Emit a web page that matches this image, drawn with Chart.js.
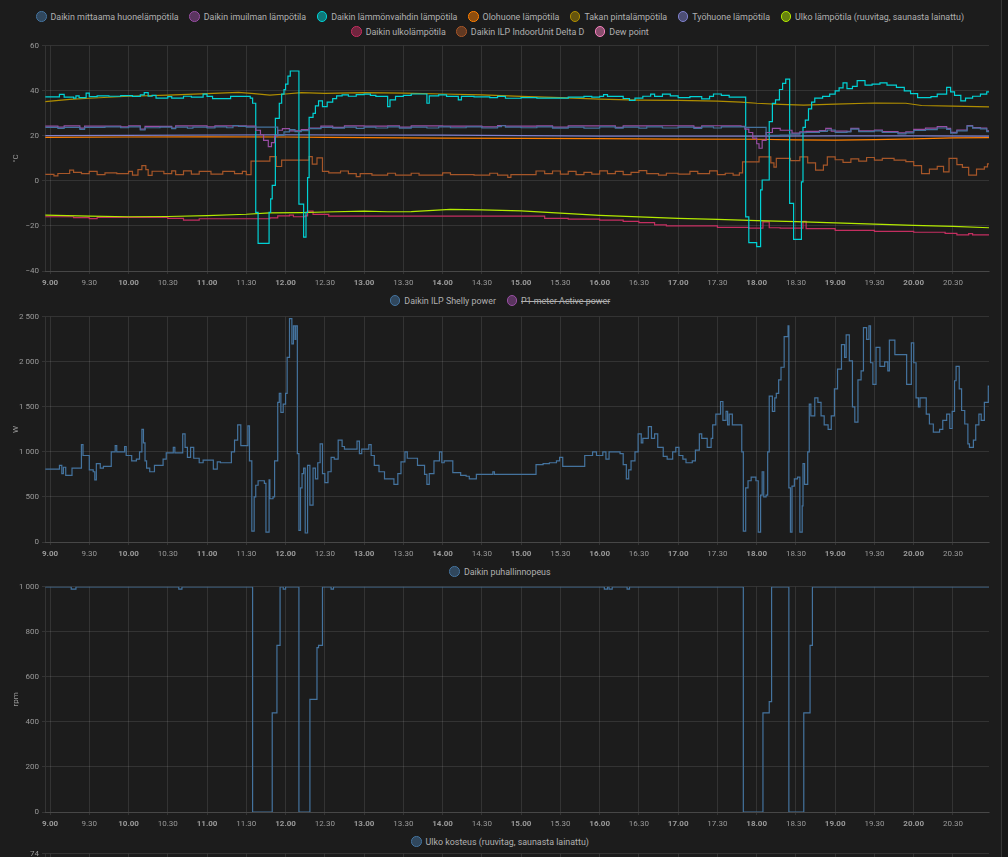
<!DOCTYPE html>
<html>
<head>
<meta charset="utf-8">
<script src="https://cdn.jsdelivr.net/npm/chart.js@4.4.0/dist/chart.umd.min.js"></script>
<style>
  html, body { margin: 0; padding: 0; background: #1c1c1c; }
  body { width: 1008px; height: 857px; overflow: hidden; position: relative; font-family: Roboto, sans-serif; }
  .legend { position: absolute; left: 0; width: 1000px; display: flex; flex-wrap: wrap; justify-content: center; margin: 0; padding: 0; list-style: none; }
  .legend li { display: inline-flex; align-items: center; height: 15px; padding: 0 5.3px; font-size: 8.9px; color: #b0b0b0; white-space: nowrap; }
  .legend .bullet { width: 10.5px; height: 10.5px; box-sizing: border-box; border: 1px solid; border-radius: 50%; margin-right: 4px; }
  .legend .off { text-decoration: line-through; }
  .box { position: absolute; left: 0; width: 1000px; height: 254px; }
  .edge { position: absolute; left: 1001px; top: 0; width: 1px; height: 857px; background: #363636; }
  .side { position: absolute; left: 1002px; top: 0; width: 6px; height: 857px; background: #171717; }
</style>
</head>
<body>
<ul class="legend" id="lg1" style="top:9px"></ul>
<div class="box" style="top:38px"><canvas id="c1" width="1000" height="254"></canvas></div>
<ul class="legend" id="lg2" style="top:293px"></ul>
<div class="box" style="top:309px"><canvas id="c2" width="1000" height="254"></canvas></div>
<ul class="legend" id="lg3" style="top:564px"></ul>
<div class="box" style="top:579px"><canvas id="c3" width="1000" height="254"></canvas></div>
<ul class="legend" id="lg4" style="top:834px"></ul>
<div class="box" style="top:846px"><canvas id="c4" width="1000" height="254"></canvas></div>
<div class="edge"></div>
<div class="side"></div>

<script>
// time axis (hours of the day)
const xMin = 8.936;
const xMax = 20.959;
const tickHours = [9, 9.5, 10, 10.5, 11, 11.5, 12, 12.5, 13, 13.5, 14, 14.5, 15, 15.5,
  16, 16.5, 17, 17.5, 18, 18.5, 19, 19.5, 20, 20.5];

// --- temperatures, [hour, °C] ---
const roomTemp = [[8.94,23.8],[9.1,23.3],[9.18,23.8],[9.38,22.9],[9.44,23.8],[9.7,24],[9.9,23.6],[10.0,24],[10.15,22.6],[10.21,23.6],[10.4,23.9],[10.55,23.2],[10.6,23.9],[10.75,23.4],[10.82,23.9],[11.0,23.5],[11.1,24],[11.25,23.6],[11.33,24.6],[11.4,24.2],[11.5,23.9],[11.9,20.2],[11.98,21.8],[12.05,22.8],[12.12,21.9],[12.2,22.3],[12.3,23.2],[12.45,23.8],[12.6,23.4],[12.75,23.9],[12.9,23.3],[13.0,23.9],[13.15,23.5],[13.3,24],[13.45,23.4],[13.6,23.9],[13.8,23.5],[13.95,24],[14.1,23.6],[14.3,24],[14.5,23.5],[14.7,24.1],[14.75,24.5],[14.8,23.9],[15.0,23.6],[15.2,24],[15.4,23.4],[15.6,23.9],[15.8,23.4],[16.0,24],[16.2,23.4],[16.3,23.9],[16.5,23.4],[16.6,24],[16.8,23.5],[17.0,23.9],[17.2,23.3],[17.3,24],[17.45,23.5],[17.55,24],[17.85,23.8],[18.12,20.2],[18.3,20.4],[18.42,20.8],[18.55,21.4],[18.63,21.5],[18.8,22],[18.9,22.6],[19.0,21.6],[19.15,21.8],[19.2,23],[19.3,21.9],[19.5,22.2],[19.6,21.5],[19.8,20.9],[19.9,21.3],[20.0,22.4],[20.15,22.8],[20.3,23.5],[20.42,22.9],[20.47,21.2],[20.55,22.2],[20.68,24.3],[20.75,23.4],[20.85,23.1],[20.93,21.9],[20.96,21.9]];
const intakeTemp = [[8.94,24.3],[9.1,23.9],[9.18,24.4],[9.38,23.4],[9.44,24.3],[9.9,24],[10.0,24.4],[10.15,23],[10.21,24.2],[10.55,23.5],[10.6,24.4],[11.0,24],[11.1,24.4],[11.5,24.3],[11.62,22.5],[11.68,20.5],[11.72,18],[11.78,15.2],[11.82,17],[11.86,20],[11.9,22.5],[11.96,23.2],[12.05,22.2],[12.2,22.8],[12.3,23.5],[12.45,24.3],[12.6,23.8],[12.75,24.4],[13.0,24.3],[13.3,24.5],[13.45,23.9],[13.6,24.4],[14.0,24.3],[14.5,24],[14.7,24.6],[14.8,24.3],[15.2,24.4],[15.4,23.9],[15.6,24.4],[16.0,24.5],[16.2,23.8],[16.3,24.4],[16.6,24.5],[17.0,24.4],[17.2,23.8],[17.3,24.5],[17.55,24.4],[17.8,24.2],[17.85,23],[17.9,21.5],[17.95,19],[18.0,16.5],[18.03,14.5],[18.07,18],[18.12,21.5],[18.2,23.3],[18.3,22.5],[18.45,21.2],[18.55,21.8],[18.63,22],[18.8,22.4],[18.88,23.3],[18.95,22.1],[19.15,22],[19.2,23.3],[19.3,22.2],[19.5,22.6],[19.6,21.9],[19.8,21.3],[19.9,21.8],[20.0,22.9],[20.15,23.4],[20.3,24.1],[20.42,23.3],[20.47,21.6],[20.55,22.6],[20.68,24.6],[20.75,23.7],[20.85,23.4],[20.93,22.2],[20.96,22.2]];
const exchangerTemp = [[8.94,37.3],[9.12,38.4],[9.18,37.2],[9.3,36.8],[9.33,37.8],[9.37,37],[9.46,39],[9.5,37.4],[9.6,37.8],[9.75,37.6],[9.9,37.9],[10.05,37.5],[10.15,38.2],[10.2,39.2],[10.25,37.6],[10.3,38],[10.35,36.8],[10.5,37.4],[10.55,36.8],[10.7,37.6],[10.8,37.2],[10.95,38.5],[11.0,37.5],[11.07,36.5],[11.3,37.5],[11.55,36.8],[11.58,34.5],[11.62,-14],[11.65,-27.7],[11.79,-14],[11.81,-8],[11.83,-2],[11.87,27.8],[11.92,34.5],[11.95,38.5],[11.98,40.5],[12.0,43],[12.03,46.5],[12.06,48.8],[12.17,-10.3],[12.23,-25],[12.26,-14],[12.28,1.5],[12.3,28.2],[12.35,30],[12.38,33.3],[12.42,35.5],[12.47,33],[12.53,35],[12.6,36.5],[12.65,37.8],[12.72,38.2],[12.8,37.6],[12.9,38.3],[13.0,38.5],[13.08,38],[13.15,37.5],[13.3,33],[13.33,36],[13.4,37.5],[13.5,38],[13.6,38.6],[13.8,34.5],[13.83,37.8],[13.95,38.2],[14.05,37.5],[14.2,36],[14.24,37.5],[14.4,37.3],[14.6,37],[14.7,37.5],[14.8,36.7],[15.0,37],[15.2,36.8],[15.6,37.2],[15.8,37.5],[15.9,37.2],[16.0,37.5],[16.05,38.3],[16.1,37.5],[16.3,36.6],[16.38,35.8],[16.45,36.8],[16.55,37.6],[16.65,38.5],[16.7,37.5],[16.8,38.5],[16.9,37.8],[17.0,37],[17.15,37.4],[17.3,36.4],[17.4,37.5],[17.45,38.6],[17.55,38],[17.65,37.2],[17.86,-16],[17.9,-27.4],[18.0,-29.2],[18.05,-4],[18.07,0.4],[18.16,26.3],[18.2,34.4],[18.24,36],[18.29,40.6],[18.33,43.3],[18.37,45.2],[18.42,-10],[18.47,-26],[18.57,-0.4],[18.59,23.8],[18.62,27],[18.66,32],[18.7,35],[18.74,36.8],[18.84,37.5],[18.93,38.5],[19.0,40],[19.05,41.3],[19.1,43.5],[19.15,41],[19.22,42],[19.28,44.5],[19.38,42.5],[19.47,43],[19.57,43.5],[19.66,42.5],[19.78,41.5],[19.88,40],[19.96,38.8],[20.05,37],[20.22,37.4],[20.3,38.5],[20.42,41.5],[20.47,39.5],[20.52,38],[20.6,35.5],[20.66,36.8],[20.75,37.6],[20.85,38.5],[20.93,39.5],[20.96,39.5]];
const livingRoomTemp = [[8.94,19.3],[10,19.5],[11,19.6],[12,19.5],[12.5,19.3],[13,19.2],[14,19],[15,18.9],[16,18.8],[17,18.6],[18,18.5],[18.5,18.2],[19,18.1],[19.5,18.3],[20,18.7],[20.5,19.1],[20.96,19.2]];
const fireplaceTemp = [[8.94,35.2],[9.25,36.2],[9.5,36.7],[10.0,37.6],[10.5,38.1],[11.0,38.8],[11.4,39.3],[11.6,38.8],[11.8,38.1],[12.0,38.6],[12.2,39.2],[12.5,38.9],[13.0,39.2],[13.5,39],[14.0,38.6],[14.5,38.2],[15.0,37.5],[15.5,37],[16.0,36.3],[16.5,35.9],[17.0,35.8],[17.5,35.4],[17.8,35],[18.0,34.5],[18.3,34],[18.6,33.7],[19.0,34.1],[19.5,34.6],[19.9,34.5],[20.1,33.5],[20.5,33.2],[20.96,32.9]];
const officeTemp = [[8.94,20.1],[10,20.2],[11,20.4],[12,20.5],[13,20.4],[14,20.3],[15,20.1],[16,19.9],[17,19.9],[18,19.9],[19,20],[20,20],[20.96,19.9]];
const outdoorTemp = [[8.94,-15.2],[9.5,-15.6],[10.0,-15.9],[10.5,-15.8],[11.0,-15.4],[11.5,-14.8],[11.8,-14.2],[12.2,-14.1],[12.5,-13.8],[13.0,-13.4],[13.3,-13.7],[13.6,-13.6],[14.1,-12.6],[14.5,-12.9],[15.0,-13.3],[15.5,-14.3],[16.0,-15.3],[16.5,-16],[17.0,-16.6],[17.5,-17.1],[18.0,-17.6],[18.5,-18.1],[19.0,-18.6],[19.5,-19.2],[20.0,-19.7],[20.5,-20.2],[20.96,-20.8]];
const unitOutdoorTemp = [[8.94,-15.9],[9.3,-16.3],[9.5,-16.7],[9.6,-16.2],[10.5,-16.6],[10.7,-17.4],[10.9,-16.8],[11.8,-16.4],[11.9,-15.5],[12.05,-15.2],[12.1,-15.9],[12.25,-15.5],[12.28,-13.4],[12.35,-14.9],[12.55,-15.6],[15,-15.6],[15.3,-16.6],[15.6,-17],[16,-17.4],[16.3,-18],[16.5,-18.5],[16.7,-19.5],[16.85,-20],[17.5,-20.6],[17.9,-21],[18.08,-18.2],[18.16,-20.8],[18.3,-21],[18.59,-18],[18.63,-21.2],[19.0,-22],[19.5,-22.4],[20.0,-22.8],[20.4,-23.3],[20.55,-24],[20.7,-23.4],[20.75,-24],[20.96,-24]];
const indoorDelta = [[8.94,2.9],[9.05,2.2],[9.1,3.3],[9.25,4.8],[9.3,3.8],[9.4,3.2],[9.5,4.2],[9.6,2.8],[9.7,3.6],[9.85,3.2],[10.0,4.2],[10.05,2.6],[10.12,5],[10.17,6.8],[10.22,5],[10.25,2.5],[10.3,4.3],[10.45,3.2],[10.55,4.5],[10.6,2.8],[10.7,4.5],[10.8,3],[10.9,4.2],[11.05,3],[11.2,4.2],[11.35,3.2],[11.45,4.2],[11.5,2.8],[11.56,8.8],[11.8,10.8],[11.88,6.4],[11.95,9.2],[12.3,10.8],[12.34,7.5],[12.4,10.2],[12.47,4.2],[12.55,3.6],[12.7,4.4],[12.8,3.2],[12.9,1.9],[12.95,3.2],[13.1,2.6],[13.3,3.4],[13.4,2.6],[13.6,3.4],[13.7,2.6],[14.0,3.6],[14.1,2.8],[14.4,2.6],[14.6,3.4],[14.7,2.6],[14.83,1.6],[14.87,2.8],[15.19,4.4],[15.3,3.2],[15.4,4.4],[15.5,3],[15.6,4.2],[15.7,2.8],[15.8,3.8],[15.9,3],[16.0,4.5],[16.1,3.2],[16.2,4.2],[16.3,2.8],[16.4,3.8],[16.5,4.6],[16.6,3.2],[16.75,2.6],[16.85,3.4],[17.0,3],[17.15,4.2],[17.25,3.2],[17.4,4.5],[17.5,2.8],[17.6,3.4],[17.7,2.6],[17.78,3.6],[17.82,8.5],[18.03,10.7],[18.18,8],[18.22,6.1],[18.25,10],[18.43,9],[18.55,10.7],[18.65,8],[18.75,4.8],[18.85,7],[18.9,10.7],[19.0,9.4],[19.1,8.2],[19.2,9.8],[19.3,8.8],[19.4,10.4],[19.5,9.2],[19.6,10],[19.75,9.2],[19.9,8.6],[20.0,6.8],[20.1,3.2],[20.2,5.2],[20.3,6.5],[20.38,4],[20.45,10],[20.55,7.2],[20.62,6],[20.7,2.6],[20.8,5.2],[20.9,6.2],[20.94,7.6],[20.96,7.6]];
const dewPoint = [];

// --- power, [hour, W] ---
const shellyPower = [[8.94,810],[9.12,850],[9.15,760],[9.17,830],[9.2,740],[9.28,820],[9.4,1080],[9.42,960],[9.5,800],[9.55,780],[9.57,690],[9.59,870],[9.64,820],[9.68,840],[9.78,1000],[9.83,1070],[9.85,1000],[9.95,1060],[9.97,960],[10.04,900],[10.1,920],[10.14,1000],[10.17,1250],[10.19,1100],[10.21,900],[10.23,820],[10.27,780],[10.33,850],[10.44,920],[10.48,990],[10.57,1050],[10.59,990],[10.69,1200],[10.72,1050],[10.75,940],[10.79,1050],[10.83,930],[10.9,880],[10.95,910],[11.08,810],[11.13,890],[11.17,880],[11.31,1000],[11.35,1130],[11.39,1300],[11.43,1070],[11.52,1290],[11.54,900],[11.57,120],[11.6,500],[11.62,630],[11.65,680],[11.73,650],[11.75,110],[11.79,690],[11.8,480],[11.84,500],[11.86,900],[11.9,1550],[11.92,1650],[11.94,1440],[11.97,1530],[12.0,1650],[12.02,2050],[12.05,2480],[12.08,2200],[12.1,2400],[12.12,2250],[12.13,2400],[12.15,980],[12.17,130],[12.19,600],[12.21,760],[12.23,820],[12.25,100],[12.28,850],[12.31,410],[12.35,820],[12.38,700],[12.41,880],[12.44,1090],[12.47,760],[12.5,660],[12.54,780],[12.58,940],[12.62,920],[12.67,1130],[12.72,1060],[12.75,1030],[12.91,1120],[12.94,980],[12.97,1030],[13.06,1080],[13.09,960],[13.13,850],[13.19,780],[13.26,700],[13.38,640],[13.43,760],[13.47,890],[13.52,1000],[13.55,930],[13.68,850],[13.77,750],[13.8,640],[13.83,760],[13.89,900],[13.96,1000],[13.99,880],[14.02,900],[14.13,770],[14.23,740],[14.3,730],[14.34,700],[14.43,750],[14.64,780],[14.66,750],[15.19,860],[15.28,870],[15.36,880],[15.45,900],[15.49,940],[15.53,840],[15.81,960],[15.91,1000],[15.96,960],[16.04,1000],[16.08,920],[16.12,1000],[16.26,980],[16.3,860],[16.34,700],[16.37,800],[16.4,900],[16.45,1000],[16.49,1200],[16.53,1100],[16.55,1150],[16.62,1280],[16.66,1150],[16.7,1200],[16.74,1050],[16.81,950],[16.86,920],[16.93,1000],[16.97,1050],[17.01,960],[17.06,920],[17.1,880],[17.18,900],[17.22,1020],[17.27,1200],[17.3,1150],[17.37,1050],[17.42,1150],[17.44,1300],[17.48,1420],[17.54,1560],[17.57,1350],[17.61,1450],[17.63,1300],[17.65,1420],[17.69,1300],[17.81,1000],[17.83,120],[17.86,600],[17.89,680],[17.93,720],[17.99,680],[18.02,110],[18.05,520],[18.07,780],[18.09,500],[18.12,520],[18.14,1000],[18.16,1620],[18.2,1450],[18.23,1600],[18.25,1650],[18.28,1800],[18.31,1940],[18.35,2280],[18.4,2400],[18.41,600],[18.43,110],[18.45,620],[18.48,700],[18.52,720],[18.55,110],[18.58,400],[18.59,870],[18.61,640],[18.65,1000],[18.67,1530],[18.69,1400],[18.74,1600],[18.78,1550],[18.82,1400],[18.86,1300],[18.91,1250],[18.95,1400],[18.99,1700],[19.03,1920],[19.08,2190],[19.12,2050],[19.14,2300],[19.18,2010],[19.22,1500],[19.25,1330],[19.29,1800],[19.33,1900],[19.36,2380],[19.4,2250],[19.43,2400],[19.45,1990],[19.48,1750],[19.52,2160],[19.57,1950],[19.63,2000],[19.67,1900],[19.69,2240],[19.76,2080],[19.91,1750],[19.97,2210],[20.0,1990],[20.03,1600],[20.06,1500],[20.08,1600],[20.16,1420],[20.2,1310],[20.25,1220],[20.33,1250],[20.37,1350],[20.42,1420],[20.46,1260],[20.49,1450],[20.52,1790],[20.54,1950],[20.58,1700],[20.61,1460],[20.65,1310],[20.69,1090],[20.71,1050],[20.76,1130],[20.79,1300],[20.83,1420],[20.86,1350],[20.9,1550],[20.95,1730],[20.96,1730]];
const p1Power = [];

// --- fan speed, [hour, rpm] ---
const fanSpeed = [[8.94,1000],[9.27,990],[9.33,1000],[10.64,990],[10.68,1000],[11.58,0],[11.83,440],[11.89,740],[11.93,1000],[11.97,990],[12.0,1000],[12.17,0],[12.31,500],[12.4,730],[12.42,740],[12.47,1000],[12.58,990],[12.61,1000],[16.06,990],[16.1,1000],[16.12,990],[16.16,1000],[16.35,990],[16.38,1000],[17.83,0],[18.08,440],[18.16,490],[18.19,1000],[18.41,0],[18.6,440],[18.68,740],[18.71,1000],[20.96,1000]];

// --- outdoor humidity, [hour, %] (plot is cut off below the window) ---
const outdoorHumidity = [];

const GRID = 'rgba(255,255,255,0.1)';
Chart.defaults.font.family = 'Roboto, sans-serif';
Chart.defaults.color = '#9a9a9a';

function fmtNum(v) {
  const s = Math.abs(v).toString().replace(/\B(?=(\d{3})+(?!\d))/g, '\u00a0');
  return (v < 0 ? '\u2212' : '') + s;
}
function fmtTime(h) {
  const H = Math.floor(h);
  const m = Math.round((h - H) * 60);
  return H + '.' + (m < 10 ? '0' : '') + m;
}

function makeChart(canvasId, legendId, unit, yMin, yMax, yStep, series) {
  const chart = new Chart(document.getElementById(canvasId), {
    type: 'line',
    data: {
      datasets: series.map(s => ({
        label: s.label,
        data: s.data,
        borderColor: s.color,
        backgroundColor: s.color + '7f',
        borderWidth: 1.2,
        pointRadius: 0,
        stepped: s.smooth ? false : true,
        hidden: !!s.hidden
      }))
    },
    options: {
      responsive: false,
      animation: false,
      events: [],
      layout: { padding: { left: 6, right: 11, top: 7, bottom: 0 } },
      plugins: { legend: { display: false }, tooltip: { enabled: false } },
      scales: {
        x: {
          type: 'linear', min: xMin, max: xMax,
          afterBuildTicks: s => { s.ticks = tickHours.map(v => ({ value: v })); },
          afterFit: s => { s.height = 21; },
          grid: { color: GRID, tickLength: 3 },
          border: { color: GRID },
          ticks: {
            padding: 4, autoSkip: false, maxRotation: 0,
            callback: v => fmtTime(v),
            font: c => ({ size: 8, weight: (c.tick && c.tick.value % 1 === 0) ? 'bold' : 'normal' })
          }
        },
        y: {
          min: yMin, max: yMax,
          afterFit: s => { s.width = 39; },
          grid: { color: GRID, tickLength: 3 },
          border: { color: GRID },
          ticks: { stepSize: yStep, padding: 3, font: { size: 8 }, callback: v => fmtNum(v) },
          title: { display: true, text: unit, font: { size: 8 }, padding: { top: 5, bottom: 0 } }
        }
      }
    }
  });

  // HTML legend in the style of the original dashboard
  const ul = document.getElementById(legendId);
  chart.data.datasets.forEach(ds => {
    const li = document.createElement('li');
    const b = document.createElement('span');
    b.className = 'bullet';
    b.style.borderColor = ds.borderColor;
    b.style.backgroundColor = ds.backgroundColor;
    const t = document.createElement('span');
    t.textContent = ds.label;
    if (ds.hidden) t.className = 'off';
    li.appendChild(b);
    li.appendChild(t);
    ul.appendChild(li);
  });
  return chart;
}

makeChart('c1', 'lg1', '°C', -40, 60, 20, [
  { label: 'Daikin mittaama huonelämpötila', data: roomTemp, color: '#44739e' },
  { label: 'Daikin imuilman lämpötila', data: intakeTemp, color: '#984ea3' },
  { label: 'Daikin lämmönvaihdin lämpötila', data: exchangerTemp, color: '#00d2d5' },
  { label: 'Olohuone lämpötila', data: livingRoomTemp, color: '#ff7f00', smooth: true },
  { label: 'Takan pintalämpötila', data: fireplaceTemp, color: '#af8d00', smooth: true },
  { label: 'Työhuone lämpötila', data: officeTemp, color: '#7f80cd', smooth: true },
  { label: 'Ulko lämpötila (ruuvitag, saunasta lainattu)', data: outdoorTemp, color: '#b3e900', smooth: true },
  { label: 'Daikin ulkolämpötila', data: unitOutdoorTemp, color: '#c42e60' },
  { label: 'Daikin ILP IndoorUnit Delta D', data: indoorDelta, color: '#a65628' },
  { label: 'Dew point', data: dewPoint, color: '#f781bf' }
]);

makeChart('c2', 'lg2', 'W', 0, 2500, 500, [
  { label: 'Daikin ILP Shelly power', data: shellyPower, color: '#44739e' },
  { label: 'P1 meter Active power', data: p1Power, color: '#984ea3', hidden: true }
]);

makeChart('c3', 'lg3', 'rpm', 0, 1000, 200, [
  { label: 'Daikin puhallinnopeus', data: fanSpeed, color: '#44739e' }
]);

makeChart('c4', 'lg4', '%', 60, 74, 2, [
  { label: 'Ulko kosteus (ruuvitag, saunasta lainattu)', data: outdoorHumidity, color: '#44739e' }
]);
</script>
</body>
</html>
